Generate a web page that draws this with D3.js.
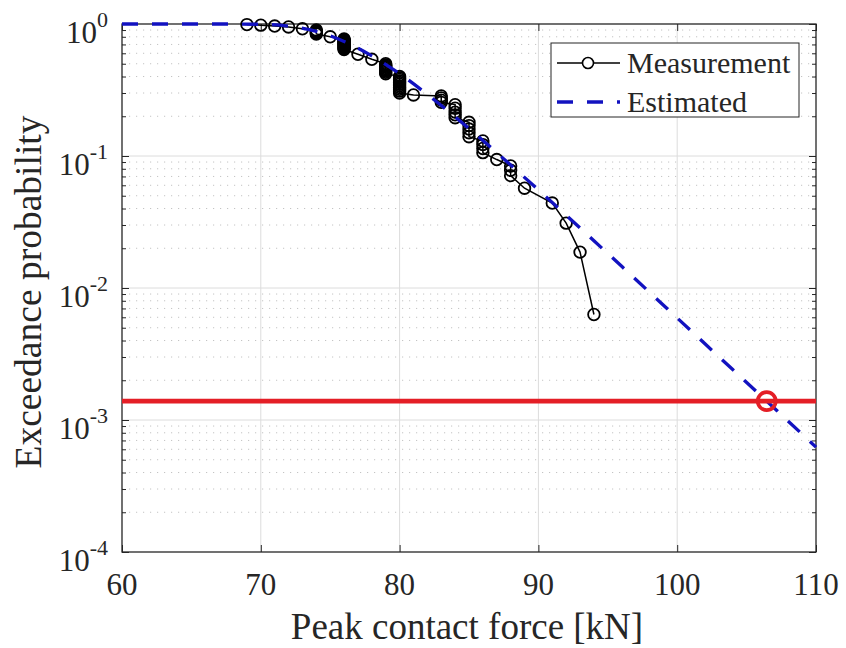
<!DOCTYPE html>
<html>
<head>
<meta charset="utf-8">
<script src="https://cdn.jsdelivr.net/npm/d3@7"></script>
<style>
  body { margin: 0; background: #fff; }
  svg { display: block; }
  text { font-family: "Liberation Serif", "Times New Roman", serif; fill: #262626; }
</style>
</head>
<body>
<div id="chart"></div>
<script>
// axis ticks
var forceTicks = [60, 70, 80, 90, 100, 110];
var probTicks = [1e-4, 1e-3, 1e-2, 1e-1, 1];
var probExp = ["-4", "-3", "-2", "-1", "0"];

var measForce = [69, 70, 71, 72, 73,
  74, 74, 74, 74, 74, 75,
  76, 76, 76, 76, 76, 76, 76, 76, 76, 76, 76, 76, 76, 76,
  77, 78,
  79, 79, 79, 79, 79, 79, 79, 79, 79,
  80, 80, 80, 80, 80, 80, 80, 80, 80, 80, 80,
  81, 83, 83, 83, 83, 84, 84, 84, 84, 84,
  85, 85, 85, 85, 85, 86, 86, 86, 86, 87, 88, 88, 88, 89, 91, 92, 93, 94];
var measProb = [0.99, 0.98, 0.965, 0.95, 0.92,
  0.90, 0.885, 0.87, 0.855, 0.84, 0.80,
  0.77, 0.76, 0.75, 0.74, 0.73, 0.72, 0.71, 0.70, 0.69, 0.68, 0.67, 0.66, 0.65, 0.64,
  0.59, 0.54,
  0.50, 0.49, 0.48, 0.47, 0.46, 0.45, 0.44, 0.43, 0.42,
  0.40, 0.39, 0.38, 0.37, 0.36, 0.35, 0.34, 0.33, 0.32, 0.31, 0.30,
  0.29, 0.285, 0.275, 0.265, 0.255, 0.245, 0.23, 0.215, 0.205, 0.195,
  0.18, 0.17, 0.16, 0.15, 0.14, 0.13, 0.122, 0.114, 0.106, 0.094, 0.084, 0.078, 0.071, 0.057, 0.044, 0.031, 0.0187, 0.0063];

// estimated curve
var estForce = [60, 62, 64, 66, 68, 70, 72, 74, 76, 78, 80, 82, 84, 86, 88, 90, 92, 94, 96, 98, 100, 102, 104, 106, 108, 110];
var estProb = [1, 1, 1, 1, 0.9997, 0.9945, 0.963, 0.878, 0.738, 0.574, 0.420, 0.2925, 0.198, 0.131, 0.0855,
  0.0553, 0.0356, 0.0228, 0.0146, 0.0093, 0.00593, 0.00378, 0.00241, 0.00154, 0.000979, 0.000623];

// design level
var designProb = 0.00139;
var designForce = 106.45;

var W = 846, H = 648;
var pL = 122, pR = 816, pT = 24, pB = 552;

var svg = d3.select("#chart").append("svg")
  .attr("width", W)
  .attr("height", H);

var x = d3.scaleLinear().domain([60, 110]).range([pL, pR]);
var y = d3.scaleLog().domain([1e-4, 1]).range([pB, pT]);

// minor log positions
var minorProb = [];
probTicks.slice(0, -1).forEach(function(d) {
  for (var k = 2; k <= 9; k++) minorProb.push(d * k);
});

// grid
var grid = svg.append("g");
grid.selectAll(".minor").data(minorProb).enter().append("line")
  .attr("x1", pL).attr("x2", pR)
  .attr("y1", d => y(d)).attr("y2", d => y(d))
  .attr("stroke", "#c4c4c4").attr("stroke-width", 1)
  .attr("stroke-dasharray", "1.2,5.8");
grid.selectAll(".hmaj").data(probTicks.slice(1, -1)).enter().append("line")
  .attr("x1", pL).attr("x2", pR)
  .attr("y1", d => y(d)).attr("y2", d => y(d))
  .attr("stroke", "#dcdcdc").attr("stroke-width", 1);
grid.selectAll(".vmaj").data(forceTicks.slice(1, -1)).enter().append("line")
  .attr("y1", pT).attr("y2", pB)
  .attr("x1", d => x(d)).attr("x2", d => x(d))
  .attr("stroke", "#dcdcdc").attr("stroke-width", 1);

// axes (ticks inward on all four sides)
function styleAxis(g) {
  g.select(".domain").remove();
  g.selectAll(".tick line").attr("stroke", "#262626").attr("stroke-width", 1);
  g.selectAll(".tick text").remove();
}
svg.append("g").attr("transform", "translate(0," + pB + ")")
  .call(d3.axisBottom(x).tickValues(forceTicks).tickSize(-7)).call(styleAxis);
svg.append("g").attr("transform", "translate(0," + pT + ")")
  .call(d3.axisTop(x).tickValues(forceTicks).tickSize(-7)).call(styleAxis);
svg.append("g").attr("transform", "translate(" + pL + ",0)")
  .call(d3.axisLeft(y).tickValues(probTicks).tickSize(-7)).call(styleAxis);
svg.append("g").attr("transform", "translate(" + pR + ",0)")
  .call(d3.axisRight(y).tickValues(probTicks).tickSize(-7)).call(styleAxis);
svg.append("g").attr("transform", "translate(" + pL + ",0)")
  .call(d3.axisLeft(y).tickValues(minorProb).tickSize(-4)).call(styleAxis);
svg.append("g").attr("transform", "translate(" + pR + ",0)")
  .call(d3.axisRight(y).tickValues(minorProb).tickSize(-4)).call(styleAxis);

svg.append("rect")
  .attr("x", pL).attr("y", pT)
  .attr("width", pR - pL).attr("height", pB - pT)
  .attr("fill", "none").attr("stroke", "#262626").attr("stroke-width", 1.3);

// tick labels
svg.selectAll(".xlab").data(forceTicks).enter().append("text")
  .attr("x", d => x(d)).attr("y", 595)
  .attr("text-anchor", "middle")
  .attr("font-size", 31)
  .text(d => d);

var ylab = svg.selectAll(".ylab").data(probTicks).enter().append("text")
  .attr("x", 108).attr("y", d => y(d) + 19)
  .attr("text-anchor", "end")
  .attr("font-size", 31);
ylab.append("tspan").text("10");
ylab.append("tspan").attr("dy", -16).attr("font-size", 22).text((d, i) => probExp[i]);

// axis titles
svg.append("text")
  .attr("x", (pL + pR) / 2 - 2).attr("y", 639)
  .attr("text-anchor", "middle")
  .attr("font-size", 37)
  .text("Peak contact force [kN]");
svg.append("text")
  .attr("transform", "translate(41," + ((pT + pB) / 2 + 4) + ") rotate(-90)")
  .attr("text-anchor", "middle")
  .attr("font-size", 37.5)
  .text("Exceedance probability");

// measurement
var meas = measForce.map((f, i) => ({ f: f, p: measProb[i] }));
svg.append("path").datum(meas)
  .attr("fill", "none").attr("stroke", "#000").attr("stroke-width", 1.5)
  .attr("d", d3.line().x(d => x(d.f)).y(d => y(d.p)));
svg.append("g").selectAll("circle").data(meas).enter().append("circle")
  .attr("cx", d => x(d.f)).attr("cy", d => y(d.p)).attr("r", 5.8)
  .attr("fill", "none").attr("stroke", "#000").attr("stroke-width", 1.8);

// estimated
var est = estForce.map((f, i) => ({ f: f, p: estProb[i] }));
svg.append("path").datum(est)
  .attr("fill", "none").attr("stroke", "#1212c0").attr("stroke-width", 3.3)
  .attr("stroke-dasharray", "16,14")
  .attr("d", d3.line().curve(d3.curveMonotoneX).x(d => x(d.f)).y(d => y(d.p)));

// design level
svg.append("line")
  .attr("x1", x(60)).attr("x2", x(110))
  .attr("y1", y(designProb)).attr("y2", y(designProb))
  .attr("stroke", "#e41e26").attr("stroke-width", 4.8);
svg.append("circle")
  .attr("cx", x(designForce)).attr("cy", y(designProb)).attr("r", 9)
  .attr("fill", "none").attr("stroke", "#e41e26").attr("stroke-width", 3.8);

// legend
var lg = svg.append("g");
lg.append("rect")
  .attr("x", 551).attr("y", 43).attr("width", 248).attr("height", 74)
  .attr("fill", "#fff").attr("stroke", "#262626").attr("stroke-width", 1);
lg.append("line").attr("x1", 557).attr("x2", 620).attr("y1", 63).attr("y2", 63)
  .attr("stroke", "#000").attr("stroke-width", 1.5);
lg.append("circle").attr("cx", 588).attr("cy", 63).attr("r", 5.5)
  .attr("fill", "#fff").attr("stroke", "#000").attr("stroke-width", 1.6);
lg.append("text").attr("x", 627).attr("y", 73).attr("font-size", 30).text("Measurement");
lg.append("line").attr("x1", 557).attr("x2", 620).attr("y1", 102).attr("y2", 102)
  .attr("stroke", "#1212c0").attr("stroke-width", 3.3).attr("stroke-dasharray", "16,14");
lg.append("text").attr("x", 627).attr("y", 112).attr("font-size", 30).text("Estimated");
</script>
</body>
</html>
